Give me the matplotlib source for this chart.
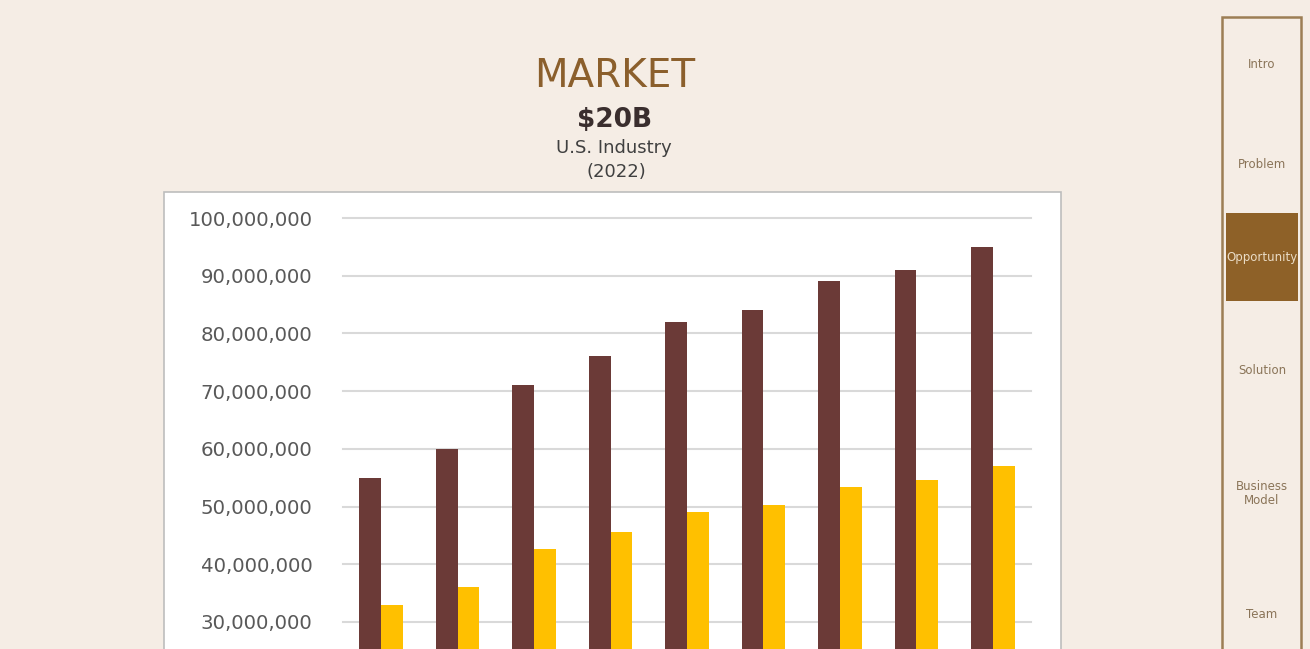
import matplotlib
matplotlib.use("Agg")
import matplotlib.pyplot as plt
import numpy as np
from matplotlib.patches import Rectangle
from matplotlib.ticker import FuncFormatter

# chart data
years = ["2022", "2023", "2024", "2025", "2026", "2027", "2028", "2029", "2030"]
market_total = [55e6, 60e6, 71e6, 76e6, 82e6, 84e6, 89e6, 91e6, 95e6]
market_share = [33e6, 36e6, 42.6e6, 45.5e6, 49e6, 50.3e6, 53.3e6, 54.6e6, 57e6]
# only the ticks that are visible on the slide
y_ticks = [30e6, 40e6, 50e6, 60e6, 70e6, 80e6, 90e6, 100e6]

nav_items = ["Intro", "Problem", "Opportunity", "Solution", "Business\nModel", "Team"]
nav_y = [64, 165, 258, 371, 494, 615]
active_nav = "Opportunity"

W, H = 1310, 649
bg = "#F5EDE5"
brown = "#6B3A37"
gold = "#FFC000"
accent = "#8E6128"

fig = plt.figure(figsize=(W / 100, H / 100), dpi=100)
fig.patch.set_facecolor(bg)


def fx(px):
    return px / W


def fy(py):
    return 1 - py / H


# white chart card
fig.patches.append(Rectangle((fx(164), fy(760)), fx(1061) - fx(164), fy(192) - fy(760),
                             transform=fig.transFigure, facecolor="white",
                             edgecolor="#BDBDBD", linewidth=1.2, zorder=-5))

# axes, bottom part (x labels) runs off the slide
ax_top, ax_bottom = 218, 795
ax = fig.add_axes([fx(343), fy(ax_bottom), fx(1031) - fx(343), fy(ax_top) - fy(ax_bottom)])
ax.set_zorder(2)
ax.patch.set_alpha(0)
x = np.arange(len(years))
w = 0.285
ax.bar(x - w / 2, market_total, width=w, color=brown, zorder=3)
ax.bar(x + w / 2, market_share, width=w, color=gold, zorder=3)
ax.set_xlim(-0.5, len(years) - 0.5)
ax.set_ylim(0, 100e6)
ax.set_yticks(y_ticks)
ax.yaxis.set_major_formatter(FuncFormatter(lambda v, p: f"{int(v):,}"))
ax.set_xticks([])
ax.grid(axis="y", color="#D9D9D9", linewidth=1.5, zorder=0)
for gl in ax.yaxis.get_gridlines():
    gl.set_clip_on(False)
for s in ax.spines.values():
    s.set_visible(False)
ax.tick_params(axis="y", length=0, pad=22, labelsize=14.2, labelcolor="#595959")

# headline
fig.text(fx(615), fy(76), "MARKET", ha="center", va="center", fontsize=28,
         color="#8B5F2C")
fig.text(fx(615), fy(120), "$20B", ha="center", va="center", fontsize=19,
         fontweight="bold", color="#3A2E2E")
fig.text(fx(614), fy(148), "U.S. Industry", ha="center", va="center", fontsize=13,
         color="#404040")
fig.text(fx(616), fy(172), "(2022)", ha="center", va="center", fontsize=13,
         color="#404040")

# side navigation
fig.patches.append(Rectangle((fx(1222), fy(700)), fx(1301) - fx(1222), fy(17) - fy(700),
                             transform=fig.transFigure, facecolor="none",
                             edgecolor="#9C7E55", linewidth=1.8, zorder=1))
fig.patches.append(Rectangle((fx(1226), fy(301)), fx(1298) - fx(1226), fy(213) - fy(301),
                             transform=fig.transFigure, facecolor=accent,
                             edgecolor="none", zorder=2))
for label, yy in zip(nav_items, nav_y):
    active = label == active_nav
    fig.text(fx(1262), fy(yy), label, ha="center", va="center", fontsize=8.5,
             color="#EADCC6" if active else "#8A7458", linespacing=1.1, zorder=3)

fig.savefig("out.png", dpi=100, facecolor=fig.get_facecolor())
